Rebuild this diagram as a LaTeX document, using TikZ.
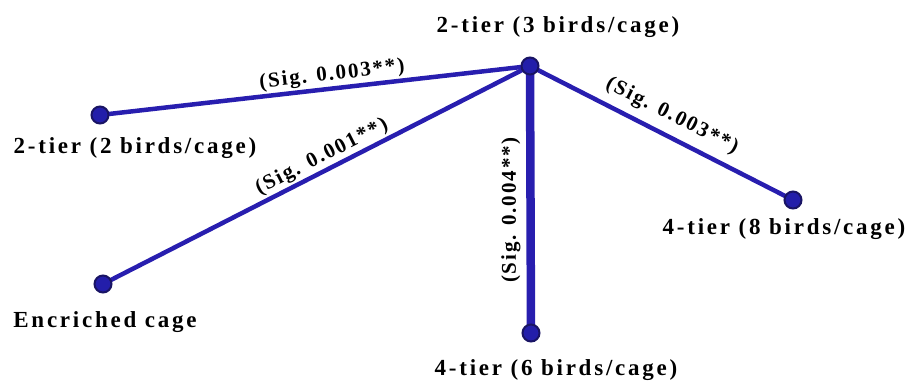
\documentclass[tikz,border=0pt]{standalone}
\usepackage{fontspec}
\setmainfont{Liberation Serif}
\newfontfamily\labfont{Liberation Serif}[BoldFont={Liberation Serif Bold}, LetterSpace=12]
\newfontfamily\edgefont{Liberation Serif}[BoldFont={Liberation Serif Bold}, LetterSpace=9]
\begin{document}
\begin{tikzpicture}[x=1pt,y=-1pt,
  dot/.style={circle,draw={rgb,255:red,25;green,20;blue,100},fill={rgb,255:red,35;green,30;blue,170},line width=2pt,minimum size=17pt,inner sep=0pt},
  link/.style={draw={rgb,255:red,40;green,30;blue,175},line width=4.5pt},
  biglink/.style={draw={rgb,255:red,40;green,30;blue,175},line width=8.5pt},
  lab/.style={font=\labfont\fontsize{23}{27}\selectfont\bfseries,inner sep=0pt},
  elab/.style={font=\edgefont\fontsize{21}{25}\selectfont\bfseries,inner sep=0pt}]
\useasboundingbox (0,0) rectangle (911,384);
\coordinate (c) at (530,66);
\coordinate (l) at (100,115);
\coordinate (e) at (103,284);
\coordinate (b) at (531,333);
\coordinate (r) at (793,200);
\draw[link] (l) -- (c);
\draw[link] (e) -- (c);
\draw[link] (c) -- (r);
\draw[biglink] (c) -- (b);
\node[dot] (nc) at (c) {};
\node[dot] (nl) at (l) {};
\node[dot] (ne) at (e) {};
\node[dot] (nb) at (b) {};
\node[dot] (nr) at (r) {};
\node[lab] (tc) at (558,27) {2-tier (3 birds/cage)};
\node[lab] (tl) at (135,148) {2-tier (2 birds/cage)};
\node[lab] (te) at (105,322) {Encriched cage};
\node[lab] (tb) at (556,370) {4-tier (6 birds/cage)};
\node[lab] (tr) at (784,229) {4-tier (8 birds/cage)};
\node[elab,rotate=6.5] (s1) at (332,75) {(Sig. 0.003**)};
\node[elab,rotate=27] (s2) at (322,157) {(Sig. 0.001**)};
\node[elab,rotate=90] (s3) at (511,210) {(Sig. 0.004**)};
\node[elab,rotate=-27] (s4) at (672,116) {(Sig. 0.003**)};
\end{tikzpicture}
\end{document}
